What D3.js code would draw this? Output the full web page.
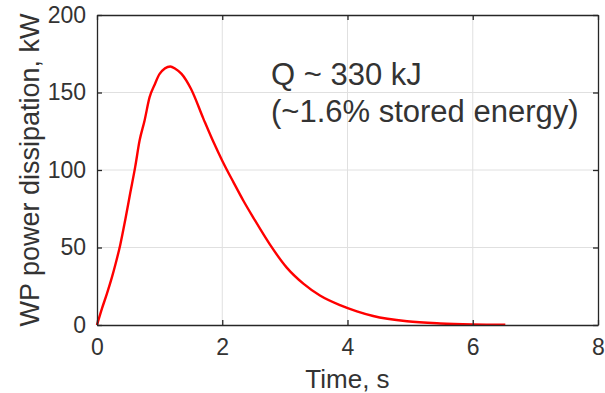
<!DOCTYPE html>
<html>
<head>
<meta charset="utf-8">
<script src="https://cdn.jsdelivr.net/npm/d3@7/dist/d3.min.js"></script>
<style>
  html, body { margin: 0; padding: 0; background: #fff; }
  svg { display: block; font-family: "Liberation Sans", Arial, sans-serif; }
</style>
</head>
<body>
<svg id="chart" width="605" height="393"></svg>
<script>
// ─── Data ───────────────────────────────────────────────────
// time (s) and wind-power dissipation (kW)
const timeS = [0, 0.08, 0.16, 0.24, 0.3, 0.37, 0.45, 0.53, 0.61, 0.68, 0.76, 0.84, 0.92, 1.0,
  1.17, 1.25, 1.35, 1.5, 1.7, 1.86, 2.0, 2.18, 2.34, 2.5, 2.76, 3.03, 3.3, 3.56, 3.88, 4.15,
  4.41, 4.95, 5.48, 6.0, 6.52];
const powerKW = [0, 10.7, 20.4, 31, 40, 51.5, 67.6, 85, 102, 119, 132, 147, 155, 162,
  166.8, 165.3, 162, 152.4, 133, 118, 106, 92, 80, 69, 52, 37, 26.5, 19, 12.8, 8.8,
  5.8, 2.4, 1.0, 0.4, 0.2];

const xTicks = [0, 2, 4, 6, 8];
const yTicks = [0, 50, 100, 150, 200];
const notes = ["Q ~ 330 kJ", "(~1.6% stored energy)"];

// ─── Layout ─────────────────────────────────────────────────
const margin = { top: 15, right: 7, bottom: 68, left: 97 };
const W = 605, H = 393;
const iw = W - margin.left - margin.right;
const ih = H - margin.top - margin.bottom;
const axisColor = "#262626";
const textColor = "#333333";

const svg = d3.select("#chart");
const g = svg.append("g").attr("transform", `translate(${margin.left},${margin.top})`);

const x = d3.scaleLinear().domain([0, 8]).range([0, iw]);
const y = d3.scaleLinear().domain([0, 200]).range([ih, 0]);

// grid
g.append("g").selectAll("line").data(xTicks.slice(1, -1)).join("line")
  .attr("x1", d => x(d)).attr("x2", d => x(d)).attr("y1", 0).attr("y2", ih)
  .attr("stroke", "#e0e0e0").attr("stroke-width", 1);
g.append("g").selectAll("line").data(yTicks.slice(1, -1)).join("line")
  .attr("y1", d => y(d)).attr("y2", d => y(d)).attr("x1", 0).attr("x2", iw)
  .attr("stroke", "#e0e0e0").attr("stroke-width", 1);

// curve
const line = d3.line()
  .x((d, i) => x(timeS[i]))
  .y(d => y(d))
  .curve(d3.curveMonotoneX);
g.append("path").datum(powerKW)
  .attr("d", line)
  .attr("fill", "none")
  .attr("stroke", "#ff0000")
  .attr("stroke-width", 2.4)
  .attr("stroke-linejoin", "round");

// axes (ticks inward, box on)
const tickLen = 5;
const styleAxis = (sel) => {
  sel.select(".domain").attr("stroke", axisColor).attr("stroke-width", 1.3);
  sel.selectAll(".tick line").attr("stroke", axisColor).attr("stroke-width", 1.3);
  sel.selectAll(".tick text").attr("fill", textColor).attr("font-size", 23)
    .attr("font-family", "Liberation Sans, Arial, sans-serif");
};

g.append("g").attr("transform", `translate(0,${ih})`)
  .call(d3.axisBottom(x).tickValues(xTicks).tickSize(-tickLen).tickSizeOuter(0).tickPadding(14))
  .call(styleAxis);
g.append("g")
  .call(d3.axisTop(x).tickValues(xTicks).tickSize(-tickLen).tickSizeOuter(0).tickFormat(""))
  .call(styleAxis);
g.append("g")
  .call(d3.axisLeft(y).tickValues(yTicks).tickSize(-tickLen).tickSizeOuter(0).tickPadding(11))
  .call(styleAxis);
g.append("g").attr("transform", `translate(${iw},0)`)
  .call(d3.axisRight(y).tickValues(yTicks).tickSize(-tickLen).tickSizeOuter(0).tickFormat(""))
  .call(styleAxis);

// axis labels
svg.append("text")
  .attr("x", margin.left + iw / 2).attr("y", 388)
  .attr("text-anchor", "middle").attr("fill", textColor).attr("font-size", 26)
  .text("Time, s");
svg.append("text")
  .attr("transform", `translate(39,${margin.top + ih / 2}) rotate(-90)`)
  .attr("text-anchor", "middle").attr("fill", textColor).attr("font-size", 27)
  .text("WP power dissipation, kW");

// annotation
svg.append("g").selectAll("text").data(notes).join("text")
  .attr("x", 271).attr("y", (d, i) => 85 + i * 37)
  .attr("fill", textColor).attr("font-size", 31)
  .text(d => d);
</script>
</body>
</html>
